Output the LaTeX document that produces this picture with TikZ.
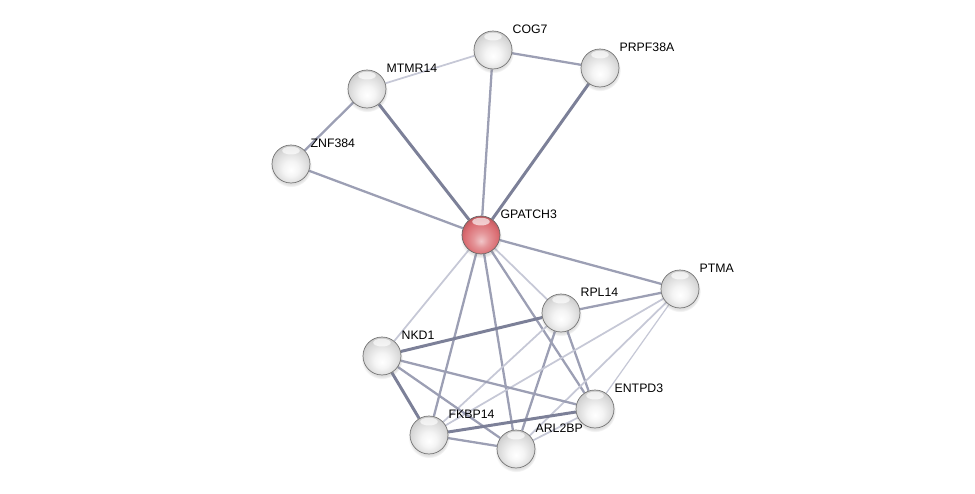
\documentclass[tikz,border=0pt]{standalone}
\usepackage{fontspec}
\setmainfont{Liberation Sans}
\usepackage{tikz}
\usetikzlibrary{backgrounds,shadows}
\usepackage{xcolor}
\definecolor{edgeweak}{RGB}{198,200,214}
\definecolor{edgemid}{RGB}{156,159,180}
\definecolor{edgestrong}{RGB}{124,128,152}
\definecolor{queryred}{RGB}{214,92,98}
\pgfdeclareradialshading{glassgray}{\pgfpoint{0bp}{-8bp}}{color(0bp)=(white);
    color(10bp)=(gray!8); color(22bp)=(gray!28); color(33bp)=(gray!50); color(50bp)=(gray!58)}
\pgfdeclareradialshading{glassred}{\pgfpoint{0bp}{-8bp}}{color(0bp)=(queryred!35!white);
    color(10bp)=(queryred!65!white); color(22bp)=(queryred!90!white); color(33bp)=(queryred!80!black); color(50bp)=(queryred!70!black)}

\begin{document}
\begin{tikzpicture}[x=0.02cm, y=-0.02cm,
    protein/.style={circle, minimum size=0.76cm, inner sep=0pt,
        draw=black!55, line width=0.4pt, shading=glassgray,
        circular drop shadow={shadow xshift=0pt, shadow yshift=-1.2pt, opacity=0.25},
        path picture={\fill[white, opacity=0.65]
            ([yshift=-3.2pt]path picture bounding box.north) ellipse (5pt and 2.2pt);}},
    query/.style={protein, shading=glassred, draw=black!60},
    lbl/.style={font=\fontsize{7pt}{8pt}\selectfont, inner sep=0pt,
        label distance=0pt, xshift=3.2pt, yshift=1.6pt, text=black},
    weak/.style={edgeweak, line width=1.0pt},
    mid/.style={edgemid, line width=1.3pt},
    strong/.style={edgestrong, line width=1.7pt}
]
    \useasboundingbox (0,0) rectangle (975,494);

    % proteins
    \node[query]   (gpatch3) at (481,235) [label={[lbl]45:GPATCH3}] {};
    \node[protein] (cog7)    at (493,50)  [label={[lbl]45:COG7}] {};
    \node[protein] (prpf38a) at (600,68)  [label={[lbl]45:PRPF38A}] {};
    \node[protein] (mtmr14)  at (367,89)  [label={[lbl]45:MTMR14}] {};
    \node[protein] (znf384)  at (291,164) [label={[lbl]45:ZNF384}] {};
    \node[protein] (ptma)    at (680,289) [label={[lbl]45:PTMA}] {};
    \node[protein] (rpl14)   at (561,313) [label={[lbl]45:RPL14}] {};
    \node[protein] (nkd1)    at (382,356) [label={[lbl]45:NKD1}] {};
    \node[protein] (entpd3)  at (595,409) [label={[lbl]45:ENTPD3}] {};
    \node[protein] (fkbp14)  at (429,435) [label={[lbl]45:FKBP14}] {};
    \node[protein] (arl2bp)  at (516,449) [label={[lbl]45:ARL2BP}] {};

    % interactions
    \begin{scope}[on background layer]
        \draw[weak]   (cog7) -- (mtmr14);
        \draw[mid]    (cog7) -- (prpf38a);
        \draw[mid]    (cog7) -- (gpatch3);
        \draw[strong] (prpf38a) -- (gpatch3);
        \draw[mid]    (mtmr14) -- (znf384);
        \draw[strong] (mtmr14) -- (gpatch3);
        \draw[mid]    (znf384) -- (gpatch3);
        \draw[mid]    (gpatch3) -- (ptma);
        \draw[weak]   (gpatch3) -- (rpl14);
        \draw[weak]   (gpatch3) -- (nkd1);
        \draw[mid]    (gpatch3) -- (fkbp14);
        \draw[mid]    (gpatch3) -- (arl2bp);
        \draw[mid]    (gpatch3) -- (entpd3);
        \draw[mid]    (rpl14) -- (ptma);
        \draw[strong] (rpl14) -- (nkd1);
        \draw[weak]   (rpl14) -- (fkbp14);
        \draw[mid]    (rpl14) -- (arl2bp);
        \draw[mid]    (rpl14) -- (entpd3);
        \draw[weak]   (ptma) -- (fkbp14);
        \draw[weak]   (ptma) -- (arl2bp);
        \draw[weak, line width=0.7pt] (ptma) -- (entpd3);
        \draw[mid]    (nkd1) -- (entpd3);
        \draw[strong] (nkd1) -- (fkbp14);
        \draw[mid]    (nkd1) -- (arl2bp);
        \draw[strong] (fkbp14) -- (entpd3);
        \draw[mid]    (fkbp14) -- (arl2bp);
        \draw[weak]   (arl2bp) -- (entpd3);
    \end{scope}
\end{tikzpicture}
\end{document}
